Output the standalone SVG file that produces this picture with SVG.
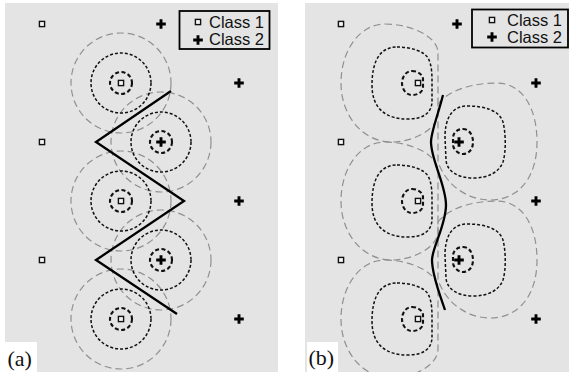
<svg xmlns="http://www.w3.org/2000/svg" xmlns:xlink="http://www.w3.org/1999/xlink" width="570" height="375" viewBox="0 0 570 375">
<style>
.bg{fill:#e4e4e4}
.big{fill:none;stroke:#909090;stroke-width:1.2;stroke-dasharray:7 4}
.mid{fill:none;stroke:#111;stroke-width:1.5;stroke-dasharray:3 2}
.sm{fill:none;stroke:#111;stroke-width:2.1;stroke-dasharray:4 2.5}
.dec{fill:none;stroke:#000;stroke-width:2.3;stroke-linejoin:miter}
.sq{fill:#f6f6f6;stroke:#111;stroke-width:1.4}
.pl{fill:none;stroke:#000;stroke-width:2.9}
.leg{fill:none;stroke:#000;stroke-width:1.8}
.lt{font-family:"Liberation Sans",Arial,sans-serif;font-size:16.5px;fill:#111}
.lab{font-family:"Liberation Serif","Times New Roman",serif;font-size:22px;fill:#111}
</style>
<defs>
<rect id="sq" class="sq" x="-2.6" y="-2.6" width="5.2" height="5.2"/>
<path id="pl" class="pl" d="M-4.8,0H4.8M0,-4.8V4.8"/>
<path id="sqBig" class="big" d="M -33,-59 C -8,-59 20,-47 20,-30 L 20,30 C 20,47 -6,59 -26,59 C -56,59 -77,32 -77,0 C -77,-33 -58,-59 -33,-59 Z"/>
<path id="sqMid" class="mid" d="M -21,-36 C -8,-36 6,-32 10,-25 C 14,-18 14,-8 14,0 L 14,18 C 14,30 5,36 -10,36 C -32,36 -46,26 -46,2 C -46,-22 -38,-36 -21,-36 Z"/>
<path id="sqSm" class="sm" d="M -6,-12 C 0,-12 5,-8 5,-4 L 5,4 C 5,9 0,12 -6,12 C -12,12 -16,6 -16,0 C -16,-6 -12,-12 -6,-12 Z"/>
<path id="plBig" class="big" d="M -21,-38 C -12,-50 10,-59 38,-59 C 62,-59 78,-36 78,0 C 78,35 60,58 31,58 C 10,58 -12,45 -21,20 Z"/>
<path id="plMid" class="mid" d="M 8,-36 C 25,-36 40,-32 44,-20 C 47,-8 47,10 44,20 C 40,30 30,36 14,36 C 0,36 -12,30 -13,18 L -14,-5 C -14,-22 -8,-36 8,-36 Z"/>
<path id="plSm" class="sm" d="M 4,-13 C 10,-13 14,-7 14,0 C 14,7 10,12 4,12 C -2,12 -6,6 -6,3 L -6,-4 C -6,-9 -2,-13 4,-13 Z"/>
<clipPath id="clipA"><rect x="5" y="3" width="273" height="369"/></clipPath>
<clipPath id="clipB"><rect x="305" y="3" width="264" height="369"/></clipPath>
</defs>

<g id="panel-a">
<rect class="bg" x="5" y="3" width="273" height="369"/>
<g id="a-contours" clip-path="url(#clipA)">
<circle class="big" cx="121" cy="83" r="50"/>
<circle class="big" cx="121" cy="201" r="50"/>
<circle class="big" cx="121" cy="319" r="50"/>
<circle class="big" cx="161" cy="142" r="50"/>
<circle class="big" cx="161" cy="260" r="50"/>
<circle class="mid" cx="121" cy="83" r="30"/>
<circle class="mid" cx="121" cy="201" r="30"/>
<circle class="mid" cx="121" cy="319" r="30"/>
<circle class="mid" cx="161" cy="142" r="30"/>
<circle class="mid" cx="161" cy="260" r="30"/>
<circle class="sm" cx="121" cy="83" r="11"/>
<circle class="sm" cx="121" cy="201" r="11"/>
<circle class="sm" cx="121" cy="319" r="11"/>
<circle class="sm" cx="161" cy="142" r="11"/>
<circle class="sm" cx="161" cy="260" r="11"/>
</g>
<g id="a-boundary">
<polyline class="dec" points="171,91 96,142 184,201 96,260 177,314"/>
</g>
<g id="a-points">
<use xlink:href="#sq" x="42" y="24"/>
<use xlink:href="#sq" x="42" y="142"/>
<use xlink:href="#sq" x="42" y="260"/>
<use xlink:href="#sq" x="121" y="83"/>
<use xlink:href="#sq" x="121" y="201"/>
<use xlink:href="#sq" x="121" y="319"/>
<use xlink:href="#pl" x="161" y="24"/>
<use xlink:href="#pl" x="161" y="142"/>
<use xlink:href="#pl" x="161" y="260"/>
<use xlink:href="#pl" x="239" y="83"/>
<use xlink:href="#pl" x="239" y="201"/>
<use xlink:href="#pl" x="239" y="319"/>
</g>
<g id="a-legend">
<rect class="leg" x="179.5" y="11" width="90" height="38" fill="#e4e4e4"/>
<use xlink:href="#sq" x="198" y="22"/>
<use xlink:href="#pl" x="198" y="40"/>
<text class="lt" x="209" y="27.5">Class 1</text>
<text class="lt" x="209" y="44.5">Class 2</text>
</g>
<g id="a-label">
<rect x="5" y="342" width="32" height="30" fill="#fff"/>
<text class="lab" x="7.5" y="366">(a)</text>
</g>
</g>

<g id="panel-b">
<rect class="bg" x="305" y="3" width="264" height="369"/>
<g id="b-contours" clip-path="url(#clipB)">
<use xlink:href="#sqBig" x="418" y="83"/>
<use xlink:href="#sqBig" x="418" y="201"/>
<use xlink:href="#sqBig" x="418" y="319"/>
<use xlink:href="#plBig" x="459" y="142"/>
<use xlink:href="#plBig" x="459" y="260"/>
<use xlink:href="#sqMid" x="418" y="83"/>
<use xlink:href="#sqMid" x="418" y="201"/>
<use xlink:href="#sqMid" x="418" y="319"/>
<use xlink:href="#plMid" x="459" y="142"/>
<use xlink:href="#plMid" x="459" y="260"/>
<use xlink:href="#sqSm" x="418" y="83"/>
<use xlink:href="#sqSm" x="418" y="201"/>
<use xlink:href="#sqSm" x="418" y="319"/>
<use xlink:href="#plSm" x="459" y="142"/>
<use xlink:href="#plSm" x="459" y="260"/>
</g>
<g id="b-boundary">
<path class="dec" d="M 443,95 C 438,115 431,132 431,142 C 431,160 446,185 446,205 C 446,225 432,248 432,260 C 432,275 440,295 445,310"/>
</g>
<g id="b-points">
<use xlink:href="#sq" x="341" y="24"/>
<use xlink:href="#sq" x="341" y="142"/>
<use xlink:href="#sq" x="341" y="260"/>
<use xlink:href="#sq" x="418" y="83"/>
<use xlink:href="#sq" x="418" y="201"/>
<use xlink:href="#sq" x="418" y="319"/>
<use xlink:href="#pl" x="457" y="24"/>
<use xlink:href="#pl" x="459" y="142"/>
<use xlink:href="#pl" x="459" y="260"/>
<use xlink:href="#pl" x="536" y="83"/>
<use xlink:href="#pl" x="536" y="201"/>
<use xlink:href="#pl" x="536" y="319"/>
</g>
<g id="b-legend">
<rect class="leg" x="472" y="9.5" width="96" height="38" fill="#e4e4e4"/>
<use xlink:href="#sq" x="492" y="20"/>
<use xlink:href="#pl" x="492" y="37"/>
<text class="lt" x="507" y="26">Class 1</text>
<text class="lt" x="507" y="43">Class 2</text>
</g>
<g id="b-label">
<rect x="307" y="342" width="31" height="30" fill="#fff"/>
<text class="lab" x="308.5" y="365">(b)</text>
</g>
</g>
</svg>
